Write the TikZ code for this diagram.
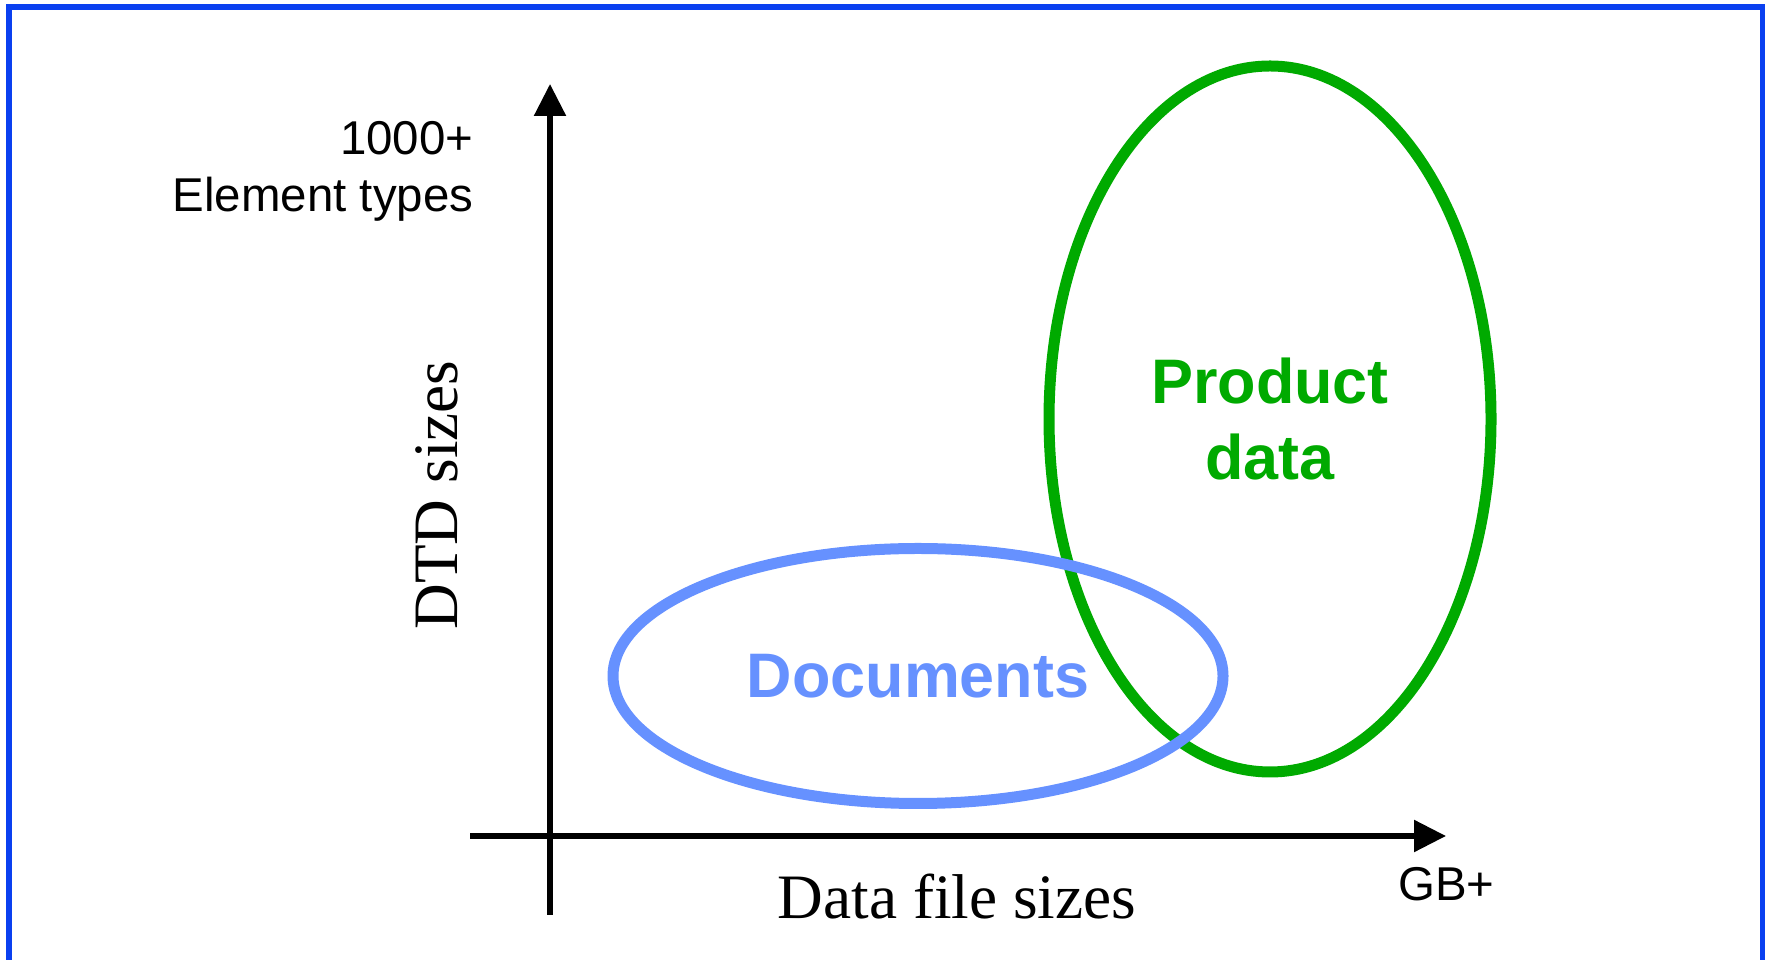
\documentclass[tikz,border=0pt]{standalone}
\usepackage{fontspec}
\setmainfont{Liberation Sans}
\newfontfamily\timesfont{Liberation Serif}
\usetikzlibrary{positioning,arrows.meta,shapes.geometric}
\definecolor{framecol}{RGB}{10,64,240}
\definecolor{doccol}{RGB}{102,145,255}
\definecolor{prodcol}{RGB}{0,170,0}

\begin{document}
\begin{tikzpicture}[
  blob/.style={ellipse, draw=#1, line width=0.11cm, text=#1, inner sep=0pt,
               font=\fontsize{17.9}{21.6}\selectfont\bfseries, align=center},
  axis/.style={-{Triangle[length=0.32cm, width=0.31cm]}, line width=0.055cm},
  lbl/.style={font=\fontsize{13.5}{16.2}\selectfont, inner sep=0pt, align=right},
  ttl/.style={font=\timesfont\fontsize{18}{21}\selectfont, inner sep=0pt}
]
\useasboundingbox (0,0) rectangle (17.65,9.59);
\draw[framecol, line width=0.055cm] (0.09,-0.3) rectangle (17.63,9.52);

\coordinate (xs) at (4.70,1.23);
\coordinate (xe) at (14.46,1.23);
\coordinate (ys) at (5.50,0.44);
\coordinate (ye) at (5.50,8.75);
\draw[axis] (xs) -- (xe);
\draw[axis] (ys) -- (ye);

\node[blob=prodcol, minimum width=4.42cm, minimum height=7.06cm] (prod) at (12.70,5.40) {Product\\data};
\node[blob=doccol, minimum width=6.10cm, minimum height=2.55cm] (docs) at (9.18,2.83) {Documents};

\node[lbl, anchor=east] (ymax) at (4.74,7.88) {1000+\\Element types};
\node[lbl, anchor=base] (xmax) at (14.465,0.59) {GB+};
\node[ttl, rotate=90] (ylab) at (4.365,4.64) {DTD sizes};
\node[ttl, anchor=base] (xlab) at (9.57,0.41) {Data file sizes};

\end{tikzpicture}
\end{document}
